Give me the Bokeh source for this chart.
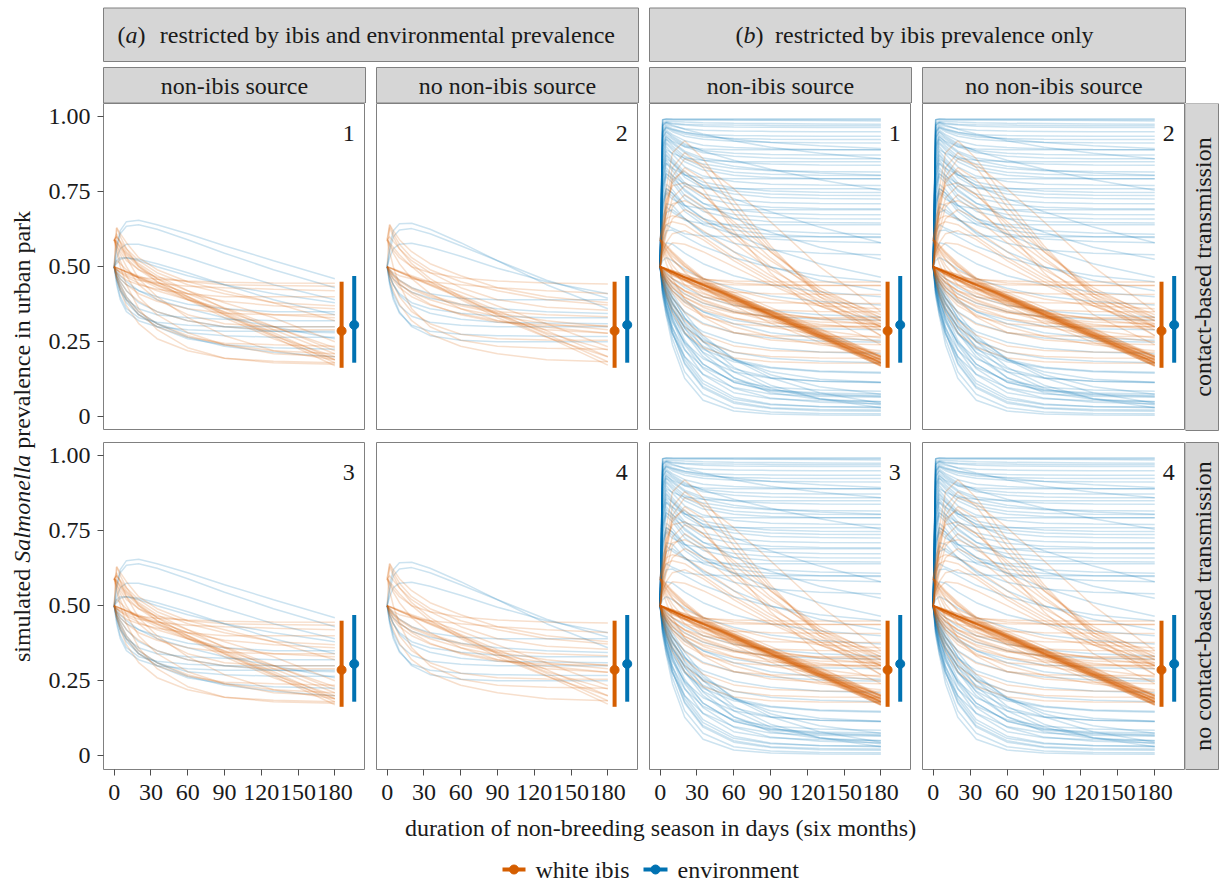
import math
from bokeh.plotting import figure
from bokeh.layouts import column, row
from bokeh.models import Range1d, FixedTicker
from bokeh.embed import file_html
from bokeh.resources import INLINE
from bokeh.core.properties import value

FONT = "Liberation Serif"
FS = "24px"
ORANGE = "#D55E00"
BLUE = "#0072B2"
GREY_LINE = "#808080"
STRIP_FILL = "#D6D6D6"

# ---------------- data ----------------
DAYS = [0, 2, 5, 10, 20, 35, 60, 90, 130, 180]
X_TICKS = [0, 30, 60, 90, 120, 150, 180]
Y_TICKS = [0, 0.25, 0.5, 0.75, 1.0]
Y_TICK_LABELS = ["0", "0.25", "0.50", "0.75", "1.00"]

# observed ranges shown at the right of every panel: [white ibis, environment]
BAR_X = [185.5, 195.8]
BAR_LO = [0.163, 0.180]
BAR_HI = [0.450, 0.469]
BAR_MID = [0.286, 0.306]

# (a) restricted by ibis and environmental prevalence, non-ibis source
A1_IBIS = [
    [0.50, 0.496, 0.491, 0.482, 0.463, 0.437, 0.394, 0.338, 0.266, 0.170],
    [0.50, 0.496, 0.491, 0.482, 0.464, 0.439, 0.398, 0.343, 0.273, 0.180],
    [0.50, 0.497, 0.491, 0.483, 0.466, 0.441, 0.401, 0.348, 0.280, 0.190],
    [0.59, 0.580, 0.565, 0.540, 0.500, 0.450, 0.390, 0.330, 0.260, 0.190],
    [0.59, 0.585, 0.570, 0.545, 0.505, 0.460, 0.400, 0.340, 0.270, 0.200],
    [0.59, 0.600, 0.580, 0.550, 0.510, 0.470, 0.420, 0.360, 0.290, 0.210],
    [0.50, 0.630, 0.600, 0.560, 0.500, 0.460, 0.420, 0.380, 0.330, 0.250],
    [0.50, 0.630, 0.610, 0.580, 0.530, 0.490, 0.450, 0.420, 0.380, 0.320],
    [0.50, 0.490, 0.485, 0.475, 0.465, 0.458, 0.452, 0.448, 0.446, 0.445],
    [0.59, 0.570, 0.550, 0.520, 0.490, 0.465, 0.450, 0.440, 0.437, 0.435],
    [0.50, 0.490, 0.480, 0.470, 0.455, 0.445, 0.435, 0.430, 0.425, 0.420],
    [0.50, 0.480, 0.470, 0.455, 0.440, 0.425, 0.410, 0.400, 0.400, 0.400],
    [0.59, 0.580, 0.560, 0.530, 0.490, 0.450, 0.410, 0.385, 0.370, 0.360],
    [0.50, 0.480, 0.460, 0.440, 0.410, 0.385, 0.360, 0.345, 0.340, 0.340],
    [0.50, 0.470, 0.450, 0.420, 0.385, 0.350, 0.320, 0.300, 0.290, 0.290],
    [0.59, 0.570, 0.540, 0.500, 0.440, 0.390, 0.340, 0.310, 0.300, 0.300],
    [0.50, 0.460, 0.430, 0.390, 0.340, 0.300, 0.265, 0.245, 0.240, 0.235],
    [0.50, 0.470, 0.440, 0.400, 0.350, 0.310, 0.270, 0.240, 0.220, 0.210],
    [0.59, 0.560, 0.520, 0.470, 0.400, 0.340, 0.280, 0.240, 0.210, 0.200],
    [0.50, 0.460, 0.420, 0.370, 0.310, 0.260, 0.220, 0.195, 0.185, 0.180],
    [0.59, 0.610, 0.580, 0.530, 0.460, 0.400, 0.330, 0.270, 0.220, 0.190],
    [0.50, 0.520, 0.510, 0.490, 0.460, 0.430, 0.390, 0.350, 0.300, 0.230],
    [0.50, 0.497, 0.492, 0.484, 0.469, 0.447, 0.410, 0.363, 0.301, 0.220],
    [0.59, 0.600, 0.585, 0.560, 0.520, 0.480, 0.440, 0.410, 0.380, 0.370],
    [0.50, 0.490, 0.480, 0.465, 0.445, 0.420, 0.390, 0.360, 0.340, 0.330],
    [0.59, 0.550, 0.500, 0.440, 0.360, 0.290, 0.230, 0.195, 0.180, 0.175],
]
A1_ENV = [
    [0.50, 0.570, 0.620, 0.650, 0.655, 0.640, 0.610, 0.570, 0.520, 0.460],
    [0.50, 0.560, 0.610, 0.635, 0.640, 0.625, 0.590, 0.545, 0.490, 0.430],
    [0.50, 0.530, 0.560, 0.575, 0.575, 0.560, 0.530, 0.490, 0.440, 0.390],
    [0.50, 0.510, 0.525, 0.530, 0.525, 0.510, 0.480, 0.440, 0.390, 0.340],
    [0.50, 0.480, 0.460, 0.440, 0.420, 0.400, 0.375, 0.360, 0.350, 0.350],
    [0.50, 0.460, 0.420, 0.390, 0.360, 0.340, 0.330, 0.325, 0.320, 0.320],
    [0.50, 0.450, 0.400, 0.360, 0.330, 0.315, 0.305, 0.300, 0.300, 0.300],
    [0.50, 0.440, 0.390, 0.350, 0.320, 0.300, 0.290, 0.285, 0.285, 0.285],
    [0.50, 0.460, 0.420, 0.380, 0.340, 0.310, 0.280, 0.270, 0.265, 0.265],
    [0.50, 0.470, 0.430, 0.390, 0.340, 0.300, 0.260, 0.240, 0.230, 0.225],
    [0.50, 0.470, 0.440, 0.400, 0.350, 0.310, 0.265, 0.235, 0.215, 0.200],
    [0.50, 0.480, 0.450, 0.420, 0.380, 0.350, 0.320, 0.300, 0.285, 0.280],
    [0.50, 0.490, 0.470, 0.450, 0.420, 0.390, 0.360, 0.330, 0.300, 0.260],
    [0.50, 0.520, 0.530, 0.530, 0.520, 0.500, 0.470, 0.440, 0.410, 0.380],
]

# (a) restricted by ibis and environmental prevalence, no non-ibis source
A2_IBIS = [
    [0.59, 0.575, 0.555, 0.530, 0.500, 0.480, 0.462, 0.452, 0.446, 0.442],
    [0.50, 0.490, 0.480, 0.470, 0.460, 0.450, 0.440, 0.430, 0.420, 0.411],
    [0.50, 0.640, 0.610, 0.575, 0.530, 0.490, 0.450, 0.420, 0.390, 0.372],
    [0.59, 0.600, 0.585, 0.560, 0.520, 0.480, 0.430, 0.390, 0.365, 0.355],
    [0.50, 0.490, 0.475, 0.455, 0.430, 0.405, 0.375, 0.350, 0.340, 0.333],
    [0.50, 0.485, 0.470, 0.445, 0.410, 0.375, 0.340, 0.315, 0.305, 0.303],
    [0.59, 0.570, 0.545, 0.510, 0.460, 0.410, 0.360, 0.320, 0.290, 0.278],
    [0.50, 0.497, 0.493, 0.485, 0.470, 0.449, 0.415, 0.369, 0.310, 0.233],
    [0.50, 0.497, 0.492, 0.483, 0.467, 0.443, 0.404, 0.353, 0.287, 0.200],
    [0.50, 0.497, 0.491, 0.482, 0.465, 0.440, 0.399, 0.345, 0.275, 0.183],
    [0.50, 0.496, 0.491, 0.482, 0.464, 0.438, 0.395, 0.339, 0.267, 0.172],
    [0.59, 0.580, 0.565, 0.540, 0.500, 0.450, 0.390, 0.330, 0.265, 0.200],
    [0.59, 0.630, 0.600, 0.560, 0.510, 0.460, 0.400, 0.340, 0.280, 0.222],
    [0.50, 0.470, 0.440, 0.400, 0.350, 0.310, 0.275, 0.260, 0.256, 0.255],
    [0.59, 0.550, 0.500, 0.440, 0.360, 0.300, 0.255, 0.235, 0.228, 0.225],
    [0.50, 0.460, 0.420, 0.375, 0.320, 0.275, 0.235, 0.210, 0.190, 0.183],
    [0.50, 0.480, 0.460, 0.440, 0.415, 0.390, 0.360, 0.335, 0.310, 0.290],
    [0.59, 0.640, 0.620, 0.590, 0.550, 0.510, 0.470, 0.430, 0.400, 0.380],
    [0.50, 0.485, 0.470, 0.452, 0.425, 0.400, 0.370, 0.345, 0.320, 0.300],
    [0.50, 0.475, 0.455, 0.430, 0.400, 0.372, 0.343, 0.320, 0.298, 0.278],
]
A2_ENV = [
    [0.50, 0.570, 0.620, 0.643, 0.645, 0.625, 0.580, 0.520, 0.440, 0.360],
    [0.50, 0.550, 0.600, 0.622, 0.627, 0.610, 0.570, 0.520, 0.455, 0.395],
    [0.50, 0.530, 0.560, 0.575, 0.578, 0.565, 0.535, 0.495, 0.450, 0.410],
    [0.50, 0.480, 0.460, 0.440, 0.415, 0.395, 0.375, 0.360, 0.350, 0.344],
    [0.50, 0.470, 0.440, 0.410, 0.380, 0.360, 0.345, 0.335, 0.330, 0.330],
    [0.50, 0.450, 0.410, 0.370, 0.335, 0.315, 0.305, 0.300, 0.300, 0.300],
    [0.50, 0.440, 0.390, 0.345, 0.305, 0.285, 0.275, 0.270, 0.268, 0.267],
    [0.50, 0.450, 0.400, 0.350, 0.300, 0.270, 0.255, 0.250, 0.250, 0.250],
    [0.50, 0.490, 0.475, 0.455, 0.430, 0.410, 0.395, 0.390, 0.390, 0.390],
    [0.50, 0.470, 0.440, 0.405, 0.370, 0.345, 0.325, 0.315, 0.312, 0.310],
]

# (b) restricted by ibis prevalence only
B_IBIS = [
    # dense, nearly linear decline from 0.50
    [0.50, 0.496, 0.491, 0.481, 0.463, 0.437, 0.394, 0.337, 0.264, 0.168],
    [0.50, 0.496, 0.491, 0.482, 0.464, 0.438, 0.395, 0.339, 0.267, 0.172],
    [0.50, 0.496, 0.491, 0.482, 0.464, 0.438, 0.396, 0.341, 0.269, 0.175],
    [0.50, 0.496, 0.491, 0.482, 0.464, 0.439, 0.397, 0.342, 0.271, 0.178],
    [0.50, 0.496, 0.491, 0.482, 0.464, 0.439, 0.398, 0.343, 0.273, 0.180],
    [0.50, 0.497, 0.491, 0.482, 0.465, 0.440, 0.398, 0.344, 0.274, 0.182],
    [0.50, 0.497, 0.491, 0.482, 0.465, 0.440, 0.399, 0.346, 0.276, 0.185],
    [0.50, 0.497, 0.491, 0.483, 0.465, 0.441, 0.400, 0.347, 0.278, 0.188],
    [0.50, 0.497, 0.491, 0.483, 0.466, 0.441, 0.401, 0.348, 0.280, 0.190],
    [0.50, 0.497, 0.491, 0.483, 0.466, 0.442, 0.402, 0.351, 0.283, 0.195],
    [0.50, 0.497, 0.492, 0.483, 0.467, 0.443, 0.404, 0.353, 0.287, 0.200],
    [0.50, 0.497, 0.492, 0.483, 0.467, 0.444, 0.406, 0.355, 0.291, 0.205],
    [0.50, 0.495, 0.489, 0.478, 0.458, 0.430, 0.388, 0.337, 0.270, 0.180],
    [0.50, 0.495, 0.489, 0.478, 0.460, 0.432, 0.392, 0.342, 0.277, 0.190],
    [0.50, 0.495, 0.488, 0.477, 0.457, 0.427, 0.385, 0.332, 0.262, 0.170],
    [0.50, 0.496, 0.491, 0.482, 0.464, 0.438, 0.393, 0.340, 0.269, 0.180],
    [0.50, 0.497, 0.492, 0.483, 0.467, 0.442, 0.400, 0.350, 0.283, 0.200],
    [0.50, 0.496, 0.491, 0.482, 0.464, 0.437, 0.392, 0.338, 0.265, 0.175],
    [0.50, 0.497, 0.494, 0.487, 0.472, 0.449, 0.409, 0.354, 0.281, 0.180],
    [0.50, 0.498, 0.494, 0.487, 0.474, 0.452, 0.415, 0.364, 0.295, 0.200],
    [0.50, 0.497, 0.493, 0.486, 0.471, 0.447, 0.406, 0.350, 0.274, 0.170],
    [0.50, 0.494, 0.487, 0.474, 0.454, 0.425, 0.382, 0.330, 0.265, 0.180],
    [0.50, 0.494, 0.487, 0.475, 0.455, 0.427, 0.385, 0.336, 0.272, 0.190],
    [0.50, 0.494, 0.486, 0.474, 0.452, 0.422, 0.378, 0.325, 0.257, 0.170],
    [0.50, 0.495, 0.487, 0.476, 0.457, 0.430, 0.389, 0.341, 0.280, 0.200],
    # from the higher starting value
    [0.59, 0.580, 0.566, 0.542, 0.502, 0.452, 0.392, 0.332, 0.262, 0.192],
    [0.59, 0.585, 0.572, 0.550, 0.512, 0.462, 0.402, 0.342, 0.272, 0.202],
    [0.59, 0.575, 0.556, 0.526, 0.482, 0.430, 0.370, 0.312, 0.248, 0.186],
    [0.59, 0.582, 0.569, 0.546, 0.507, 0.457, 0.397, 0.337, 0.267, 0.197],
    # quick drop to a plateau
    [0.50, 0.490, 0.485, 0.476, 0.465, 0.457, 0.452, 0.450, 0.449, 0.449],
    [0.50, 0.488, 0.480, 0.469, 0.455, 0.445, 0.440, 0.438, 0.437, 0.437],
    [0.59, 0.570, 0.550, 0.522, 0.486, 0.460, 0.446, 0.440, 0.438, 0.437],
    [0.50, 0.485, 0.474, 0.460, 0.440, 0.425, 0.415, 0.410, 0.408, 0.407],
    [0.50, 0.480, 0.465, 0.446, 0.420, 0.400, 0.386, 0.380, 0.378, 0.377],
    [0.59, 0.560, 0.530, 0.490, 0.440, 0.400, 0.370, 0.356, 0.351, 0.350],
    [0.50, 0.475, 0.455, 0.430, 0.398, 0.370, 0.346, 0.334, 0.330, 0.330],
    [0.50, 0.470, 0.445, 0.412, 0.370, 0.335, 0.310, 0.301, 0.300, 0.300],
    [0.50, 0.465, 0.435, 0.396, 0.348, 0.308, 0.280, 0.270, 0.268, 0.267],
    [0.59, 0.550, 0.510, 0.460, 0.392, 0.332, 0.281, 0.256, 0.245, 0.240],
    [0.50, 0.460, 0.422, 0.378, 0.320, 0.272, 0.236, 0.221, 0.216, 0.215],
    [0.50, 0.455, 0.412, 0.362, 0.300, 0.250, 0.215, 0.201, 0.196, 0.195],
    [0.50, 0.450, 0.402, 0.346, 0.280, 0.230, 0.196, 0.183, 0.179, 0.178],
    [0.50, 0.480, 0.460, 0.438, 0.408, 0.380, 0.350, 0.330, 0.316, 0.310],
    [0.59, 0.575, 0.558, 0.535, 0.500, 0.462, 0.422, 0.392, 0.370, 0.360],
    [0.50, 0.485, 0.470, 0.450, 0.420, 0.390, 0.356, 0.330, 0.308, 0.290],
    [0.50, 0.470, 0.448, 0.420, 0.385, 0.355, 0.328, 0.312, 0.304, 0.300],
    [0.59, 0.565, 0.540, 0.505, 0.458, 0.414, 0.373, 0.345, 0.328, 0.320],
    [0.50, 0.478, 0.458, 0.432, 0.398, 0.365, 0.330, 0.300, 0.272, 0.250],
    [0.50, 0.475, 0.450, 0.420, 0.380, 0.340, 0.300, 0.268, 0.240, 0.220],
    [0.50, 0.488, 0.476, 0.460, 0.436, 0.410, 0.378, 0.350, 0.325, 0.305],
    [0.50, 0.484, 0.468, 0.447, 0.418, 0.387, 0.350, 0.318, 0.288, 0.262],
    # early peak, then decline
    [0.50, 0.620, 0.760, 0.880, 0.920, 0.860, 0.720, 0.570, 0.400, 0.270],
    [0.50, 0.600, 0.720, 0.830, 0.880, 0.830, 0.700, 0.560, 0.410, 0.300],
    [0.50, 0.580, 0.680, 0.780, 0.830, 0.790, 0.680, 0.550, 0.420, 0.320],
    [0.50, 0.570, 0.650, 0.730, 0.770, 0.740, 0.640, 0.530, 0.410, 0.330],
    [0.59, 0.640, 0.680, 0.710, 0.720, 0.690, 0.610, 0.520, 0.420, 0.340],
    [0.50, 0.550, 0.610, 0.660, 0.690, 0.660, 0.580, 0.490, 0.400, 0.320],
    [0.59, 0.620, 0.640, 0.650, 0.640, 0.600, 0.530, 0.460, 0.380, 0.310],
    [0.50, 0.540, 0.580, 0.610, 0.620, 0.590, 0.520, 0.450, 0.370, 0.290],
    [0.50, 0.600, 0.700, 0.790, 0.820, 0.760, 0.620, 0.480, 0.340, 0.240],
    [0.59, 0.630, 0.660, 0.670, 0.660, 0.620, 0.550, 0.470, 0.390, 0.300],
    [0.50, 0.530, 0.560, 0.580, 0.575, 0.550, 0.500, 0.440, 0.370, 0.300],
    [0.50, 0.560, 0.620, 0.700, 0.740, 0.700, 0.600, 0.500, 0.380, 0.270],
    [0.50, 0.590, 0.690, 0.800, 0.860, 0.840, 0.760, 0.650, 0.500, 0.350],
    [0.59, 0.660, 0.720, 0.770, 0.780, 0.740, 0.650, 0.550, 0.430, 0.330],
]
B_ENV = [
    [0.50, 0.99, 0.993, 0.993, 0.993, 0.993, 0.993, 0.993, 0.993, 0.993],
    [0.50, 0.99, 0.990, 0.990, 0.990, 0.990, 0.989, 0.988, 0.987, 0.986],
    [0.50, 0.99, 0.992, 0.991, 0.990, 0.990, 0.990, 0.990, 0.990, 0.990],
    [0.50, 0.98, 0.985, 0.984, 0.982, 0.980, 0.978, 0.977, 0.976, 0.975],
    [0.50, 0.975, 0.982, 0.978, 0.975, 0.973, 0.972, 0.971, 0.970, 0.970],
    [0.50, 0.97, 0.980, 0.976, 0.972, 0.968, 0.966, 0.965, 0.964, 0.964],
    [0.50, 0.96, 0.975, 0.968, 0.960, 0.955, 0.952, 0.951, 0.950, 0.950],
    [0.50, 0.95, 0.970, 0.960, 0.948, 0.940, 0.937, 0.936, 0.935, 0.935],
    [0.50, 0.945, 0.965, 0.955, 0.942, 0.932, 0.927, 0.925, 0.924, 0.924],
    [0.50, 0.94, 0.962, 0.950, 0.935, 0.925, 0.918, 0.915, 0.913, 0.912],
    [0.50, 0.93, 0.955, 0.940, 0.920, 0.905, 0.897, 0.893, 0.891, 0.890],
    [0.50, 0.92, 0.948, 0.930, 0.905, 0.887, 0.878, 0.874, 0.872, 0.872],
    [0.50, 0.91, 0.940, 0.925, 0.900, 0.880, 0.868, 0.862, 0.860, 0.860],
    [0.50, 0.90, 0.935, 0.915, 0.885, 0.862, 0.848, 0.842, 0.839, 0.838],
    [0.50, 0.88, 0.925, 0.902, 0.868, 0.842, 0.827, 0.820, 0.817, 0.816],
    [0.50, 0.87, 0.915, 0.895, 0.860, 0.832, 0.815, 0.808, 0.805, 0.804],
    [0.50, 0.86, 0.910, 0.888, 0.850, 0.822, 0.805, 0.797, 0.794, 0.793],
    [0.50, 0.85, 0.900, 0.875, 0.833, 0.802, 0.784, 0.775, 0.772, 0.771],
    [0.50, 0.83, 0.885, 0.860, 0.815, 0.782, 0.762, 0.752, 0.748, 0.747],
    [0.50, 0.82, 0.875, 0.852, 0.806, 0.772, 0.752, 0.742, 0.738, 0.737],
    [0.50, 0.81, 0.870, 0.845, 0.798, 0.762, 0.742, 0.731, 0.727, 0.726],
    [0.50, 0.79, 0.855, 0.830, 0.780, 0.742, 0.722, 0.714, 0.711, 0.710],
    [0.50, 0.78, 0.845, 0.820, 0.770, 0.730, 0.708, 0.698, 0.694, 0.693],
    [0.50, 0.76, 0.830, 0.805, 0.752, 0.711, 0.689, 0.678, 0.674, 0.673],
    [0.50, 0.74, 0.810, 0.790, 0.738, 0.697, 0.674, 0.664, 0.660, 0.659],
    [0.50, 0.73, 0.800, 0.780, 0.726, 0.684, 0.661, 0.650, 0.647, 0.646],
    [0.50, 0.70, 0.775, 0.757, 0.704, 0.660, 0.634, 0.620, 0.612, 0.608],
    [0.50, 0.69, 0.760, 0.745, 0.694, 0.650, 0.622, 0.607, 0.600, 0.597],
    [0.50, 0.68, 0.750, 0.735, 0.684, 0.640, 0.609, 0.592, 0.584, 0.580],
    [0.50, 0.64, 0.710, 0.705, 0.660, 0.615, 0.578, 0.556, 0.545, 0.540],
    [0.50, 0.97, 0.980, 0.972, 0.958, 0.942, 0.920, 0.898, 0.878, 0.860],
    [0.50, 0.93, 0.950, 0.935, 0.910, 0.885, 0.855, 0.825, 0.790, 0.755],
    [0.50, 0.89, 0.925, 0.910, 0.880, 0.855, 0.835, 0.822, 0.812, 0.805],
    [0.50, 0.82, 0.860, 0.845, 0.808, 0.770, 0.727, 0.683, 0.632, 0.580],
    [0.50, 0.76, 0.810, 0.795, 0.758, 0.712, 0.662, 0.615, 0.565, 0.525],
    [0.50, 0.95, 0.965, 0.957, 0.947, 0.937, 0.925, 0.914, 0.903, 0.894],
    [0.50, 0.72, 0.760, 0.745, 0.706, 0.662, 0.608, 0.560, 0.510, 0.465],
    [0.50, 0.84, 0.890, 0.878, 0.862, 0.855, 0.851, 0.850, 0.850, 0.850],
    [0.50, 0.77, 0.820, 0.803, 0.776, 0.763, 0.760, 0.760, 0.760, 0.760],
    [0.50, 0.71, 0.745, 0.725, 0.703, 0.693, 0.690, 0.690, 0.690, 0.690],
    [0.50, 0.66, 0.700, 0.682, 0.655, 0.643, 0.640, 0.640, 0.640, 0.640],
    [0.50, 0.61, 0.640, 0.628, 0.610, 0.602, 0.600, 0.600, 0.600, 0.600],
    [0.50, 0.90, 0.932, 0.918, 0.900, 0.892, 0.890, 0.890, 0.890, 0.890],
    [0.50, 0.80, 0.845, 0.828, 0.806, 0.796, 0.793, 0.793, 0.793, 0.793],
    [0.50, 0.58, 0.620, 0.622, 0.600, 0.568, 0.530, 0.498, 0.470, 0.450],
    [0.50, 0.55, 0.580, 0.575, 0.545, 0.510, 0.470, 0.440, 0.416, 0.400],
    [0.50, 0.52, 0.530, 0.520, 0.492, 0.460, 0.428, 0.402, 0.384, 0.372],
    [0.50, 0.62, 0.680, 0.690, 0.660, 0.610, 0.550, 0.500, 0.455, 0.420],
    [0.50, 0.49, 0.480, 0.460, 0.430, 0.400, 0.372, 0.353, 0.340, 0.332],
    [0.50, 0.47, 0.450, 0.420, 0.382, 0.350, 0.322, 0.303, 0.293, 0.290],
    [0.50, 0.46, 0.430, 0.395, 0.350, 0.312, 0.280, 0.262, 0.252, 0.248],
    [0.50, 0.45, 0.415, 0.375, 0.325, 0.283, 0.248, 0.228, 0.216, 0.210],
    [0.50, 0.44, 0.400, 0.355, 0.300, 0.255, 0.215, 0.195, 0.185, 0.180],
    [0.50, 0.43, 0.385, 0.335, 0.275, 0.225, 0.183, 0.162, 0.150, 0.145],
    [0.50, 0.42, 0.370, 0.315, 0.248, 0.193, 0.150, 0.128, 0.118, 0.115],
    [0.50, 0.45, 0.405, 0.350, 0.280, 0.215, 0.160, 0.130, 0.118, 0.113],
    [0.50, 0.41, 0.355, 0.295, 0.222, 0.165, 0.120, 0.098, 0.089, 0.085],
    [0.50, 0.40, 0.340, 0.275, 0.200, 0.142, 0.097, 0.076, 0.068, 0.065],
    [0.50, 0.44, 0.390, 0.325, 0.245, 0.175, 0.115, 0.085, 0.072, 0.067],
    [0.50, 0.46, 0.420, 0.360, 0.280, 0.200, 0.130, 0.090, 0.075, 0.070],
    [0.50, 0.47, 0.430, 0.375, 0.295, 0.212, 0.130, 0.080, 0.058, 0.050],
    [0.50, 0.46, 0.425, 0.380, 0.315, 0.250, 0.190, 0.150, 0.125, 0.115],
    [0.50, 0.45, 0.400, 0.330, 0.240, 0.160, 0.095, 0.062, 0.048, 0.043],
    [0.50, 0.44, 0.380, 0.300, 0.200, 0.120, 0.065, 0.042, 0.033, 0.030],
    [0.50, 0.43, 0.365, 0.280, 0.175, 0.095, 0.045, 0.027, 0.020, 0.018],
    [0.50, 0.42, 0.360, 0.280, 0.180, 0.100, 0.050, 0.030, 0.024, 0.022],
    [0.50, 0.42, 0.350, 0.260, 0.150, 0.075, 0.030, 0.016, 0.011, 0.010],
    [0.50, 0.41, 0.335, 0.240, 0.128, 0.055, 0.019, 0.009, 0.006, 0.005],
    [0.50, 0.47, 0.435, 0.385, 0.310, 0.230, 0.150, 0.095, 0.060, 0.040],
    [0.50, 0.48, 0.445, 0.400, 0.330, 0.250, 0.165, 0.105, 0.060, 0.030],
    [0.50, 0.48, 0.450, 0.410, 0.345, 0.270, 0.190, 0.130, 0.080, 0.045],
    [0.50, 0.47, 0.440, 0.395, 0.330, 0.262, 0.195, 0.140, 0.100, 0.075],
    [0.50, 0.46, 0.410, 0.345, 0.255, 0.175, 0.115, 0.088, 0.079, 0.076],
    [0.50, 0.44, 0.390, 0.320, 0.225, 0.140, 0.080, 0.060, 0.053, 0.051],
    [0.50, 0.43, 0.370, 0.290, 0.190, 0.110, 0.058, 0.040, 0.034, 0.032],
    [0.50, 0.45, 0.410, 0.360, 0.295, 0.235, 0.190, 0.165, 0.152, 0.148],
    [0.50, 0.48, 0.460, 0.430, 0.390, 0.350, 0.310, 0.280, 0.262, 0.255],
    [0.50, 0.49, 0.470, 0.445, 0.410, 0.378, 0.350, 0.333, 0.325, 0.322],
]

COL_LABELS = ["non-ibis source", "no non-ibis source", "non-ibis source", "no non-ibis source"]
ROW_LABELS = ["contact-based transmission", "no contact-based transmission"]
PANEL_NUMBERS = [["1", "2", "1", "2"], ["3", "4", "3", "4"]]
PANEL_DATA = [(A1_IBIS, A1_ENV), (A2_IBIS, A2_ENV), (B_IBIS, B_ENV), (B_IBIS, B_ENV)]
LEGEND_LABELS = ["white ibis", "environment"]

X_RANGE = (-8.7, 205.0)
Y_RANGE = (-0.046, 1.044)
FRAME_W = [262, 262, 262, 263]
FRAME_H = 327
BOTTOM_AXIS = 44


def bare(width, height, xr, yr):
    p = figure(width=width, height=height, x_range=Range1d(*xr), y_range=Range1d(*yr),
               output_backend="svg", toolbar_location=None, min_border=0,
               x_axis_location=None, y_axis_location=None)
    p.outline_line_color = None
    p.xgrid.grid_line_color = None
    p.ygrid.grid_line_color = None
    return p


def txt(p, x, y, s, angle=0.0, align="center", italic=False, size=FS):
    p.text(x=[x], y=[y], text=[s], angle=angle, text_align=align, text_baseline="middle",
           text_font=value(FONT), text_font_size=size, text_color="#1a1a1a",
           text_font_style="italic" if italic else "normal")


def style_axis(ax):
    ax.axis_line_color = None
    ax.major_tick_line_color = "#4d4d4d"
    ax.major_tick_out = 6
    ax.major_tick_in = 0
    ax.minor_tick_line_color = None
    ax.major_label_text_font = FONT
    ax.major_label_text_font_size = FS
    ax.major_label_text_color = "#1a1a1a"


def panel(r, c):
    ibis, env = PANEL_DATA[c]
    left = (c == 0)
    bottom = (r == 1)
    mbl = 63 if left else 11
    mbt = 12 if r == 1 else 0
    mbb = BOTTOM_AXIS if bottom else 0
    w = FRAME_W[c] + mbl
    h = FRAME_H + mbt + mbb
    p = figure(width=w, height=h, x_range=Range1d(*X_RANGE), y_range=Range1d(*Y_RANGE),
               output_backend="svg", toolbar_location=None, min_border=0,
               x_axis_location="below" if bottom else None,
               y_axis_location="left" if left else None)
    p.min_border_left = mbl
    p.min_border_top = mbt
    p.min_border_bottom = mbb
    p.min_border_right = 0
    p.xgrid.grid_line_color = None
    p.ygrid.grid_line_color = None
    p.outline_line_color = GREY_LINE
    p.outline_line_width = 1
    if left:
        ax = p.yaxis[0]
        ax.ticker = FixedTicker(ticks=Y_TICKS)
        ax.major_label_overrides = {t: l for t, l in zip(Y_TICKS, Y_TICK_LABELS)}
        ax.major_label_standoff = 7
        style_axis(ax)
    if bottom:
        ax = p.xaxis[0]
        ax.ticker = FixedTicker(ticks=X_TICKS)
        ax.major_label_standoff = 9
        style_axis(ax)

    p.multi_line(xs=[DAYS] * len(env), ys=env, line_color=BLUE, line_alpha=0.2, line_width=1.5)
    p.multi_line(xs=[DAYS] * len(ibis), ys=ibis, line_color=ORANGE, line_alpha=0.2, line_width=1.5)

    for i, col in enumerate([ORANGE, BLUE]):
        p.segment(x0=[BAR_X[i]], y0=[BAR_LO[i]], x1=[BAR_X[i]], y1=[BAR_HI[i]],
                  line_color=col, line_width=4)
        p.scatter(x=[BAR_X[i]], y=[BAR_MID[i]], size=9, color=col)

    p.text(x=[191.4], y=[0.945], text=[PANEL_NUMBERS[r][c]], text_align="center",
           text_baseline="middle", text_font=value(FONT), text_font_size=FS, text_color="#1a1a1a")
    return p


# ---------- header (strips) in page-pixel coordinates ----------
hdr = bare(1220, 103, (0, 1220), (-103, 0))
hdr.quad(left=[103, 649], right=[638, 1185], top=[-7.5, -7.5], bottom=[-61, -61],
         fill_color=STRIP_FILL, line_color=GREY_LINE, line_width=1)
sub_l = [103, 376, 649, 922]
sub_r = [365, 638, 911, 1185]
hdr.quad(left=sub_l, right=sub_r, top=[-67] * 4, bottom=[-102.5] * 4,
         fill_color=STRIP_FILL, line_color=GREY_LINE, line_width=1)
for l, rr, lab in zip(sub_l, sub_r, COL_LABELS):
    txt(hdr, (l + rr) / 2, -85, lab)
# (a) label
txt(hdr, 117, -34, "(", align="left")
txt(hdr, 125, -34, "a", align="left", italic=True)
txt(hdr, 137, -34, ")", align="left")
txt(hdr, 159.3, -34, "restricted by ibis and environmental prevalence", align="left")
# (b) label
txt(hdr, 735, -34, "(", align="left")
txt(hdr, 743, -34, "b", align="left", italic=True)
txt(hdr, 755, -34, ")", align="left")
txt(hdr, 774.5, -34, "restricted by ibis prevalence only", align="left")

# ---------- left y title ----------
mid_h = FRAME_H + FRAME_H + 12 + BOTTOM_AXIS
ylab = bare(40, mid_h, (0, 40), (-(103 + mid_h), -103))
half = math.pi / 2
txt(ylab, 21, -661.6, "simulated", angle=half, align="left")
txt(ylab, 21, -562.3, "Salmonella", angle=half, align="left", italic=True)
txt(ylab, 21, -448.3, "prevalence in urban park", angle=half, align="left")

# ---------- right strips ----------
rst = bare(35, mid_h, (1185, 1220), (-(103 + mid_h), -103))
rst.quad(left=[1185, 1185], right=[1218, 1218], top=[-103, -442], bottom=[-430, -769],
         fill_color=STRIP_FILL, line_color=GREY_LINE, line_width=1)
txt(rst, 1202, -266.5, ROW_LABELS[0], angle=half)
txt(rst, 1202, -605.5, ROW_LABELS[1], angle=half)

# ---------- footer: x title + legend ----------
ftop = 103 + mid_h
ftr = bare(1220, 881 - ftop, (0, 1220), (-881, -ftop))
txt(ftr, 660, -827, "duration of non-breeding season in days (six months)")
for kx0, kx1, tx, col, lab in [(502, 525, 535, ORANGE, LEGEND_LABELS[0]),
                               (643, 667, 677, BLUE, LEGEND_LABELS[1])]:
    ftr.segment(x0=[kx0], y0=[-869], x1=[kx1], y1=[-869], line_color=col, line_width=4)
    ftr.scatter(x=[(kx0 + kx1) / 2], y=[-869], size=9, color=col)
    txt(ftr, tx, -869, lab, align="left")

rows = [row(*[panel(r, c) for c in range(4)]) for r in range(2)]
block = column(*rows)
mid = row(ylab, block, rst)
layout = column(hdr, mid, ftr)

open("out.html", "w").write(file_html(layout, INLINE))
